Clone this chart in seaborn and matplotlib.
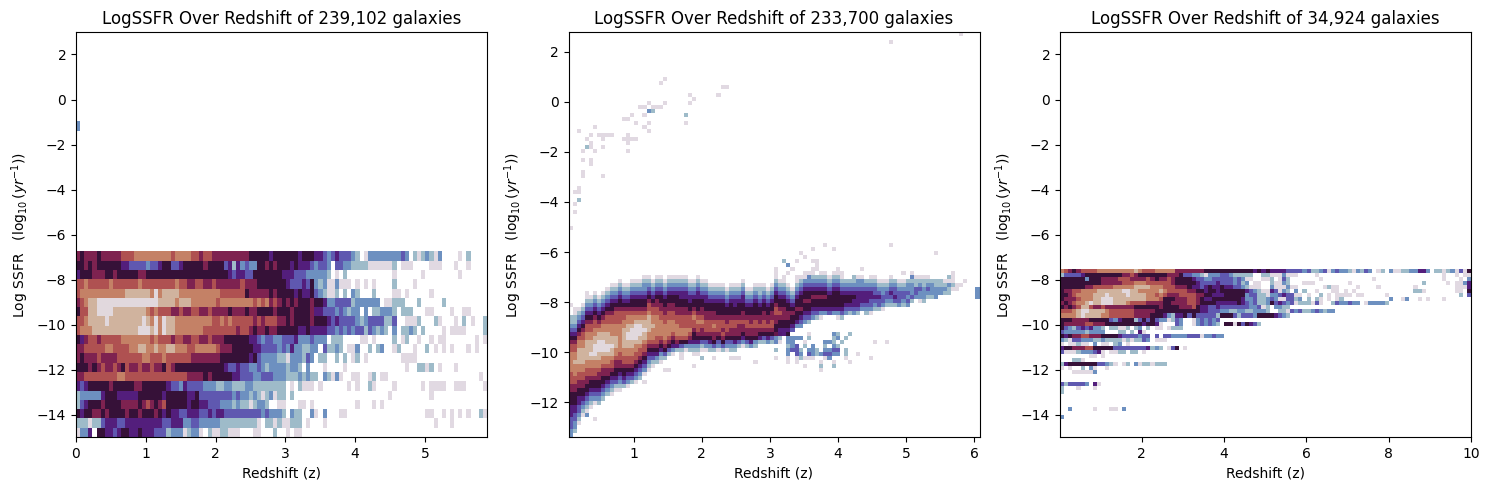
import numpy as np
import pandas as pd
import seaborn as sns
import matplotlib
matplotlib.use('Agg')
import matplotlib.pyplot as plt

# every char is a log-count level: 0 (lowest) .. a (highest), '.' = empty bin
# left half | right half of the redshift axis, top row first
GROUP1_ROWS = [
    "65666566666777888888888788887767766666666655555455|55554555 44 323 4 333 21 . 0 2222222232 . 1012102 .... 0 . 1",
    "55656555555 4433332334 55 33 45555565555 34 1 4 2322 556565|55 4 5 444 3233 2 . 33 22111 1 00000 0 1 . 000 .... 000 ... 0 .. 0",
    "455566655655555665555555555555555555 5 434433 5555555|44433 322222 1 . 0 . 1 ........... 0 ...... 0 ........ 0",
    "77877777877777787777777787766776676666667666555555|54 3 33 43 5 2 1 2 00 2 000 . 0 . 0 . 0 .... 1 .... 0",
    "788888888888 9999998 a 8999988888 888887777 77566666565|55545 44 5 32 10 0 1 . 1 . 2 1 ... 1 .... 00 . 0 ..... 0",
    "67899 aaaaaaaaaaaaaa a 9999899988 88887888 88888 7878676|565 65 55 6 55 4 22 33 33 1 222222 . 00 111 ... 1 ..... 1",
    "5 77 99 aaaa 99999999 87 8 7776676677 6676666566 6566555565|55 655 55 6 44 33 3 2 3 21 22 . 2 . 11 2221 . 1 11 ... 00 .... 0 .. 00",
    "778 9999 a99 999999 a98 a 8 a9 9888888 8887787877 7776767776|656 55 55 6 555 4 34333 32 1 2 3333 11 3 .. 0 00 1 ... 1 0 ... 0 . 1 . 0 .. 1",
    "78 88999 9999999 9aaa9 a 8 a9 9888 888877777 777677 65665665|55554454 444 332 32 32 33 13 21 21 . 2 . 11 21 . 1 .... 0 . 0000 .... 1",
    "546 7767777 788888887 8 7776776677 66766655 5555 4 43 2 33 22|3 3 34 222 3 222 . 11 1 .... 00 . 0 .... 1 . 0 1 .. 0 .. 0 . 00 ....... 0 . 0",
    "6677777887 7778899889 8899888778 88887666 5555 5 443 3332|3 2 4 22 11 22 . 3 11 21 . 00 2 .. 1 . 1 2 .. 0 1 ... 0 .. 1 . 0 . 0 . 0 ... 0 . 0",
    "6566676666 7777778877 7877777766 6666655555 5545322221|10 222 1 3 2 . 1 1 .. 1 . 1 . 0 1 . 0 ........ 0000",
    "5556567667 6576676676 6576555555 555555 43 34 3322321222|2 1 22 1 . 2 ... 0 .... 0 .............. 0 .. 11 0 1 . 0 ... 0",
    "6677777777 8877777777 7777777666 65655555 44333 22 3 3322|2 111 2 1 2 11 . 2 1 0 2 0 .. 00 .. 0 1 . 00 ...................... 0",
    "4345555565 5555665555 5543324333 3222112211 1221111111|1 . 0 . 1 000 . 0 ...... 0 . 0 .. 1 0 .... 0 ...... 0 . 0000 .. 000 .... 0",
    "1222224555 4444455555 5455555445 3333333323 2212101201|1 . 1 ....................... 0 ......... 0",
    "1345556555 5666656765 6755555455 4433322212 1101221..0|0 ... 00 . 0 .......... 0 ... 0 . 0",
    "5455665655 5565565556 5454433444 3343443333 3333323222|1 . 2 11 .. 2 0 . 2 ... 00 ................... 00 .. 0 . 0 . 0 . 0 .. 1 0",
    "1110113444 3344444444 4334442233 2222211111 11110.1101|00 111 . 0 ... 0 .......................... 0 ... 0",
    "0224.55443 4554454443 33 1 222 0 122 0 . 1 00 11 000 ... 00 ... 1 .|. 0 . 00",
]
GROUP1_OUTLIER = (0, 33, 2)

# colour position of each level on the twilight map
LEVEL_VALUES = [0.003, 0.11, 0.2, 0.3, 0.4, 0.52, 0.64, 0.74, 0.82, 0.9, 0.985]

# (first filled row counted from the bottom, levels going up) for each redshift bin
GROUP2_COLUMNS = [
    (0, "223334445556677788888776543211"), (1, "1223344555667788898877654321100"),
    (3, "01233445566778899998876543210"), (5, "0123455667788999988776543210"),
    (6, "01234556677889999988776543210"), (7, "0123455677889a99988776543210"),
    (8, "023455677889aaa9988776543210"), (8, "1234556678899aaa99876543210"),
    (9, "123455667889aaa99887654 3210"), (10, "1234566788 9aa9998877654 3210"),
    (10, "0123456778 99a99888776554 3210"), (11, "013455667 88999888777654 3210"),
    (11, "0123456677 88888887776554 3210"), (12, "13455677 889 99998877654 3210"),
    (12, "02345677889 9aa998876543210"), (13, "134567788 99aaa98876554 3210"),
    (13, "0234567788 9aaaa98765543210"), (14, "123456778 99aaa98765543210"),
    (15, "02345677 899a9987655432210"), (16, "0123456788 999987765432 10"),
    (17, "0134567888 9887765432 10"), (18, "124567788 88877665432 10"),
    (18, "012456788 8877665543210"), (19, "13567888 877665543210"),
    (20, "1356788 8877665543210"), (20, "0245678 8877665543210"),
    (21, "146788 8776655543210"), (21, "135788 7776655443210"),
    (21, "0257887 776655443210"), (21, "124678 777655443210"),
    (20, "0124556778765543210"), (20, "012456778 76555443210"),
    (21, "01356678 7665543210"), (21, "0235677 76655443210"),
    (21, "12456777 665543210"), (21, "1356678 7665543210"),
    (21, "023567 77655543210"), (21, "13567 677655543210"),
    (21, "023567 7665543210"), (21, "123566 776555432 10"),
    (21, "12456 6776554432 10"), (22, "1356 667655543210"),
    (22, "0245 6676655443210"), (22, "13566 776554 3210"),
    (22, "2456 676655432 10"), (22, "12566 77655543210"),
    (23, "14567 6655432110"), (23, "1356 77665543210"),
    (23, "2456 7665543 210"), (23, "13567 76655432 10"),
    (23, "1245566776554321 0"), (24, "13455676554 3210"),
    (25, "245566655432100"), (25, "34556655 43210"),
    (26, "3455654 3210"), (27, "24556554 3210"),
    (27, "2345655543210"), (28, "23455655 4320"),
    (28, "134556554 3210"), (29, "234556543210"),
    (29, "1345565432 1"), (29, "0245565432 10"),
    (30, "245565432 10"), (30, "34555432 1"),
    (30, "245555432 10"), (29, "02455554321"),
    (29, "134555432 10"), (30, "2345543 21"),
    (30, "134554321"), (30, "2344543 210"),
    (30, "134444322 0"), (31, "23444322 0"),
    (30, "123444321"), (30, "0233443210"),
    (31, "12343321 0"), (31, "13343210"),
    (31, "02332210"), (32, "123321 0"),
    (32, "12343210"), (32, "1343321"),
    (32, "2333210"), (32, "1233210"),
    (32, "2323221"), (33, "13222110"),
    (34, "233110"), (33, "0223210"),
    (33, "1222110"), (34, "123210"),
    (34, "12221"), (34, "22211"),
    (35, "2211"), (35, "1210"),
    (35, "1120"), (36, "010"),
    (36, "00"), (37, "0"),
    (38, "0"), (0, ""),
    (0, ""), (34, "222"),
]

# patch under the ridge at redshift 3-4.5, first char is redshift bin 50
GROUP2_PATCH_ROWS = [
    (25, "2122 .... 0 ..... 21 .. 1"),
    (24, "... 222 2 . 1 .. ... 12 . 1"),
    (23, "10 . 22 . . 0 .... 221 . 1 ....... 0 .. 0"),
    (22, "... 123 . 1 . 2 .. 1 . 21"),
    (21, "1 .. 233 1 . 2 21 . 2233 . 1"),
    (20, "... 2 . 32 . 3 2123322 . 1 .. 0"),
    (19, "0 .. 0 . 01 000 .. 02 ... 0 ..... 0"),
    (18, "... 0 . 0 ..... 0 .. 0 ... 0"),
    (17, "....... 0 ... 1 .. 1"),
    (16, "........... 0"),
]

# lone cells well away from the ridge
GROUP2_LONE_COLS = [0, 1, 1, 2, 1, 2, 2, 3, 3, 8, 5, 5, 3, 3, 6, 4, 5, 5, 8, 4, 8, 5, 7, 8, 9, 10, 2, 6,
                    14, 14, 13, 14, 15, 16, 14, 18, 19, 19, 16, 18, 15, 13, 14, 17, 18, 19, 20, 19, 20, 21, 22, 23,
                    22, 23, 28, 28, 29, 30, 29, 36, 37, 38,
                    62, 78, 59, 64, 56, 89, 57, 52, 55, 59, 60, 53, 60, 50, 54, 59, 60, 65, 71,
                    50, 53, 57, 65, 66, 81, 93, 50, 52, 55, 58, 61, 62, 63, 69, 78, 83, 84, 92, 93,
                    78, 95, 4, 4, 4, 2, 3, 0, 6, 4, 18, 23, 24, 27, 27, 30, 32, 35, 39, 40, 41, 45]
GROUP2_LONE_ROWS = [51, 55, 57, 58, 60, 60, 61, 64, 65, 64, 67, 68, 68, 70, 70, 71, 72, 71, 71, 73, 73, 74, 74, 74, 74, 74, 75, 76,
                    70, 72, 73, 73, 73, 73, 74, 76, 75, 77, 77, 79, 79, 78, 78, 81, 81, 80, 80, 82, 81, 81, 81, 82,
                    87, 88, 77, 79, 82, 83, 84, 84, 86, 86,
                    47, 47, 46, 46, 45, 45, 44, 43, 43, 43, 43, 42, 42, 41, 41, 41, 41, 41, 41,
                    40, 40, 40, 40, 40, 40, 40, 39, 39, 39, 39, 39, 39, 39, 39, 39, 39, 39, 39, 39,
                    97, 99, 35, 34, 33, 31, 31, 32, 4, 5, 13, 16, 16, 19, 20, 17, 19, 19, 19, 19, 19, 18]
GROUP2_LONE_LEVELS = [0, 0, 0, 1, 0, 0, 0, 0, 0, 0, 0, 0, 0, 0, 0, 1, 0, 0, 0, 0, 0, 0, 0, 0, 0, 0, 0, 0,
                      0, 0, 0, 0, 0, 0, 0, 0, 0, 0, 0, 0, 0, 0, 0, 0, 0, 2, 1, 0, 0, 0, 0, 0,
                      0, 0, 0, 1, 0, 0, 0, 0, 0, 0,
                      0, 0, 0, 0, 0, 0, 0, 1, 0, 0, 0, 2, 0, 0, 0, 0, 0, 0, 0,
                      0, 0, 0, 0, 0, 0, 0, 0, 0, 0, 1, 0, 0, 0, 1, 0, 1, 0, 1, 0,
                      0, 0, 0, 0, 0, 0, 0, 0, 0, 2, 0, 0, 0, 0, 0, 0, 1, 0, 0, 0, 0, 0]

GROUP3_ROWS = [
    "8765677778 8888888898 7778888866 6666655555 5555555454|5 444 4 3333 23 11 23 0 23 22 1 0 2 1 3 2 . 0 1 . 2 00 11 22 44 2 . 11 0 1 2 0 3 0 5",
    "1333345555 5555566765 5555 556665 3322102223 3211111..1|1 000 2 000 .... 0 .............................. 0 .. 0 . 00",
    "5555552555 6666777666 6765 667655 5543322333 3323200..0|0 1 . 0 3 1 ....... 0 ............ 0 ................ 0 ... 0 . 2",
    "5555555555 6666677788 8777 777655 5554333343 332312.00.|. 1 0 0 2 1 ... 000 ........ 0 ................. 1 ..... 0 . 00 2 4",
    "5555556677 7778888899 9988 8777 66 6 5 443 454 4 544 332 10 00 .|. 2 000 2 00 ...... 0100 .... 0 .... 0 ........ 0 ......... 000 4",
    "5667788889 99999aa998 8888 9 877777 66 55 45545 55555 4 3210|0 43 0 2 1 . 2 . 1 .. 0 ... 00 . 0 . 0 .............. 11 0 ....... 00 . 5",
    "5567888899 9a9999a999 9887 8 7 666 77 77 66 554 4455 555 233 11|0 22 3 4 33 00 . 0 .. 1 . 0 . 0000 . 00 ..... 0 ................. 1 . 3",
    "5666788899 aaa9999999 9888 7 5 55666 77 65 44555 55554 2231 1|2 3 2 00 33 12 . 1 . 1 0 . 0 . 0 1 ........... 2 .. 0 2 .. 0 . 0 ... 0",
    "6567889a99 aaa9998777 7666 655666 677 65 5554 444454 3231 1|2 5 3 4 3 23 0 111 0 3 0 .. 1 32 2 3 2 2 . 0 2222 1",
    "5656799766 7666666655 5555 65 5556 667 5 443 343 333333 22 3 0|1 . 22 1 1",
    "77789aa999 9877777766 6665 555555555 544 333 221 122 11 222|1 .. 11 0 3 23 11 2 3 2 1 2 2",
    "88889a9999 8877777766 6655 54 2 1 4453 5333 33 1 5 55 3 1 333 2 55|5 54 3 2 1",
    "555666655555 324 55 51 3 5353 22 01 32 .. 0 23232 3",
    "5666667766 6555555555 4554 0 ... 32 .. 0 232321 . 55 0 5 3 54 3 1",
    "5321343422 1.11001.12 .1. 00 . 0 111",
    "3 222 221 2222 ... 11 . 1 . 4 0",
    "5456677666 55554 33332 3 3 . 3 . 33 2222 333 0 22322",
    "2103322211 2 111 101 011 3 2 . 000",
    "0 . 001 00 . 2 . 00 . 12 . 0",
    "4 55 66677 55 555 33 3333 334 12 1 . 0 3 5 . 0",
    "3 0001 222 34 0 . 00 11 . 11 . 0",
    "....... 00 . 0",
    "... 1 1 0",
    "1 4 5555555 33 2 1 0 . 0 1 . 2 0 11 0 1 11",
    "0 . 0 .. 1 . 2 0 .. 0",
    "... 00000 2",
    "",
    "",
    "3 1 3333 2 . 4 0",
    "1 ... 0 ... 0",
    "1",
    "",
    "",
    "",
    ".. 2 ..... 0 ... 00 . 2",
    "",
    "2",
]

TITLES = ['LogSSFR Over Redshift of 239,102 galaxies',
          'LogSSFR Over Redshift of 233,700 galaxies',
          'LogSSFR Over Redshift of 34,924 galaxies']


def row_levels(row):
    # split on | so a miscount in one half does not shift the other half
    parts = row.replace(' ', '').split('|')
    if len(parts) == 2:
        return parts[0].ljust(50, '.')[:50] + parts[1]
    return parts[0]


def to_frame(cols, rows, levels, x_edges, y_edges):
    x_mid = (x_edges[:-1] + x_edges[1:]) / 2
    y_mid = (y_edges[:-1] + y_edges[1:]) / 2
    values = [LEVEL_VALUES[v] for v in levels]
    return pd.DataFrame({'z': x_mid[cols], 'ssfr': y_mid[rows], 'level': values})


def grid_cells(rows, top_index):
    cols, idx, levels = [], [], []
    for i, row in enumerate(rows):
        for c, ch in enumerate(row_levels(row)[:100]):
            if ch != '.':
                cols.append(c)
                idx.append(top_index - i)
                levels.append(int(ch, 16))
    return cols, idx, levels


def draw(ax, df, x_edges, y_edges, xlim, ylim, title):
    sns.histplot(data=df, x='z', y='ssfr', weights='level', bins=[x_edges, y_edges],
                 cmap='twilight', vmin=0, vmax=1, ax=ax)
    ax.set_xlim(xlim)
    ax.set_ylim(ylim)
    ax.set_title(title)
    ax.set_xlabel('Redshift (z)')
    ax.set_ylabel(r'Log SSFR   ($\log_{10}(yr^{-1})$)')


fig, axes = plt.subplots(1, 3, figsize=(14.89, 4.9), dpi=100)

# panel 1
x1 = np.linspace(0, 5.89, 101)
y1 = -15 + 0.4125 * np.arange(45)
c1, r1, l1 = grid_cells(GROUP1_ROWS, 19)
c1.append(GROUP1_OUTLIER[0])
r1.append(GROUP1_OUTLIER[1])
l1.append(GROUP1_OUTLIER[2])
draw(axes[0], to_frame(c1, r1, l1, x1, y1), x1, y1, (0, 5.89), (-15, 3), TITLES[0])

# panel 2
x2 = np.linspace(0.04, 6.08, 101)
y2 = np.linspace(-13.4, 2.8, 101)
c2, r2, l2 = [], [], []
for c, (start, col) in enumerate(GROUP2_COLUMNS):
    for i, ch in enumerate(col.replace(' ', '')):
        c2.append(c)
        r2.append(start + i)
        l2.append(int(ch, 16))
for row, txt in GROUP2_PATCH_ROWS:
    for i, ch in enumerate(txt.replace(' ', '')):
        if ch != '.':
            c2.append(50 + i)
            r2.append(row)
            l2.append(int(ch, 16))
c2 += GROUP2_LONE_COLS
r2 += GROUP2_LONE_ROWS
l2 += GROUP2_LONE_LEVELS
draw(axes[1], to_frame(c2, r2, l2, x2, y2), x2, y2, (0.04, 6.08), (-13.4, 2.8), TITLES[1])

# panel 3
x3 = np.linspace(0.01, 10, 101)
y3 = -7.53 - 0.18 * np.arange(37, -1, -1)
c3, r3, l3 = grid_cells(GROUP3_ROWS, 36)
draw(axes[2], to_frame(c3, r3, l3, x3, y3), x3, y3, (0.01, 10), (-15, 3), TITLES[2])

for ax, left in zip(axes, [76, 568.5, 1060]):
    ax.set_position([left / 1489, 1 - 437 / 490, 411 / 1489, 405 / 490])

fig.savefig('out.png', dpi=100)
